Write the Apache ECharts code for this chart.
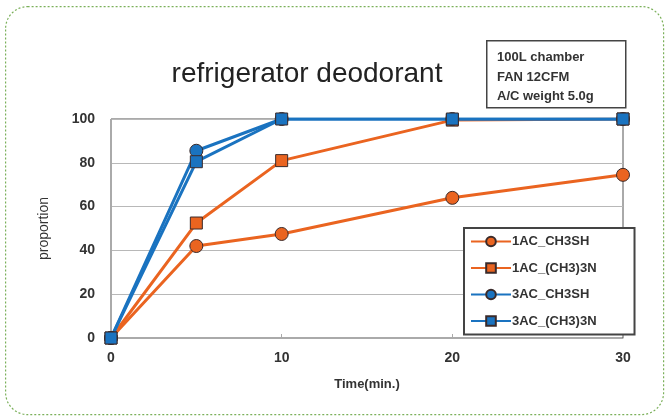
<!DOCTYPE html>
<html><head><meta charset="utf-8">
<script src="https://cdn.jsdelivr.net/npm/echarts@6/dist/echarts.min.js"></script>
<style>html,body{margin:0;padding:0;background:#fff}#c{width:669px;height:420px}</style>
</head><body><div id="c"></div>
<script>
const times = [0, 5, 10, 20, 30];
const seriesNames = ['1AC_CH3SH', '1AC_(CH3)3N', '3AC_CH3SH', '3AC_(CH3)3N'];
const ac1_ch3sh = [0, 42, 47.5, 64, 74.5];
const ac1_tma = [0, 52.5, 81, 99.5, 100];
const ac3_ch3sh = [0, 85.5, 100, 100, 100];
const ac3_tma = [0, 80.5, 100, 100, 100];
const yTicks = [0, 20, 40, 60, 80, 100];
const xTicks = [0, 10, 20, 30];
const noteLines = ['100L chamber', 'FAN 12CFM', 'A/C weight 5.0g'];

const orange = '#ea6420', blue = '#1a73c0';
function pairs(vals){ return times.map((t,i)=>[t, vals[i]]); }
function mk(name, vals, color, symbol, size){
  return {name, type:'line', data:pairs(vals), symbol, symbolSize:size,
    lineStyle:{color, width:3}, itemStyle:{color, borderColor:'#3a2a2a', borderWidth:1}, z: 3};
}
const chart = echarts.init(document.getElementById('c'));
chart.setOption({
  animation:false,
  backgroundColor:'#fff',
  title:{text:'refrigerator deodorant', left:302, top:55, textAlign:'center',
    textStyle:{fontFamily:'Liberation Sans', fontSize:28, fontWeight:'normal', color:'#222'}},
  grid:{left:111, right:46, top:119, bottom:82, show:true, borderColor:'#555', borderWidth:1},
  xAxis:{type:'value', min:0, max:30, interval:10, name:'Time(min.)', nameLocation:'middle', nameGap:40,
    nameTextStyle:{fontFamily:'Liberation Sans', fontWeight:'bold', fontSize:13, color:'#333'},
    axisLine:{lineStyle:{color:'#aaa'}}, axisTick:{show:true, length:4, inside:true, lineStyle:{color:'#aaa'}},
    splitLine:{show:false},
    axisLabel:{margin:13, fontFamily:'Liberation Sans', fontWeight:'bold', fontSize:14, color:'#333',
      customValues: xTicks}},
  yAxis:{type:'value', min:0, max:100, interval:20, name:'proportion', nameLocation:'middle', nameGap:60,
    nameTextStyle:{fontFamily:'Liberation Sans', fontSize:14, color:'#333'},
    axisLine:{show:true, lineStyle:{color:'#aaa'}}, axisTick:{show:false},
    splitLine:{lineStyle:{color:'#b8b8b8'}},
    axisLabel:{margin:16, fontFamily:'Liberation Sans', fontWeight:'bold', fontSize:14, color:'#333'}},
  legend:{orient:'vertical', left:464, top:228, itemWidth:40, itemHeight:12, itemGap:13.5,
    padding:[7,38,7,6], backgroundColor:'#fff', borderColor:'#444', borderWidth:2,
    textStyle:{fontFamily:'Liberation Sans', fontWeight:'bold', fontSize:13, color:'#333', padding:[0,0,0,-4]},
    data: seriesNames},
  graphic:[
    {type:'rect', left:5, top:6, shape:{width:658, height:408, r:22}, z:-10,
      style:{fill:'#fff', stroke:'#7bb05a', lineWidth:1.2, lineDash:[2,2]}},
    {type:'rect', left:486, top:40, shape:{width:139, height:67}, z:10,
      style:{fill:'#fff', stroke:'#444', lineWidth:1.5}},
    {type:'text', left:497, top:48, z:11,
      style:{text: noteLines.join('\n'), lineHeight:19.5, font:'bold 13px "Liberation Sans"', fill:'#333'}}
  ],
  series:[
    mk(seriesNames[0], ac1_ch3sh, orange, 'circle', 13),
    mk(seriesNames[1], ac1_tma, orange, 'rect', 12),
    mk(seriesNames[2], ac3_ch3sh, blue, 'circle', 13),
    mk(seriesNames[3], ac3_tma, blue, 'rect', 12)
  ]
});
</script></body></html>
